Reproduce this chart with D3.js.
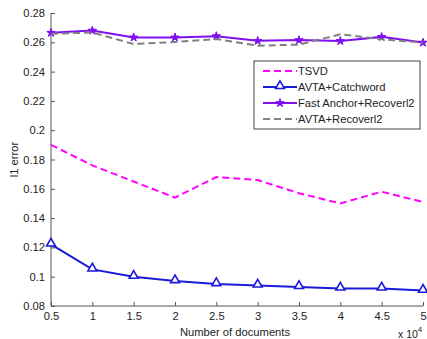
<!DOCTYPE html>
<html>
<head>
<meta charset="utf-8">
<script src="https://cdn.jsdelivr.net/npm/d3@7"></script>
<style>
  body { margin: 0; background: #fff; }
  svg text { font-family: "Liberation Sans", Arial, sans-serif; fill: #222; }
</style>
</head>
<body>
<div id="chart"></div>
<script>
const docs = [0.5, 1, 1.5, 2, 2.5, 3, 3.5, 4, 4.5, 5];
const tsvd = [0.190, 0.176, 0.165, 0.154, 0.168, 0.166, 0.157, 0.150, 0.158, 0.151];
const avtaCatchword = [0.122, 0.105, 0.100, 0.097, 0.095, 0.094, 0.093, 0.092, 0.092, 0.0905];
const fastAnchor = [0.2665, 0.268, 0.2633, 0.2633, 0.2642, 0.261, 0.2615, 0.2609, 0.2637, 0.2598];
const avtaRecover = [0.2658, 0.2667, 0.2588, 0.2602, 0.2622, 0.2577, 0.2584, 0.2655, 0.262, 0.2598];
const xTicks = [0.5, 1, 1.5, 2, 2.5, 3, 3.5, 4, 4.5, 5];
const yTicks = [0.08, 0.1, 0.12, 0.14, 0.16, 0.18, 0.2, 0.22, 0.24, 0.26, 0.28];

const series = [
  { name: "TSVD", values: tsvd, color: "#ff00ff", dash: "7,4", marker: null },
  { name: "AVTA+Catchword", values: avtaCatchword, color: "#1a1ad8", dash: null, marker: "triangle" },
  { name: "Fast Anchor+Recoverl2", values: fastAnchor, color: "#8010f0", dash: null, marker: "star" },
  { name: "AVTA+Recoverl2", values: avtaRecover, color: "#808080", dash: "7,4", marker: null }
];

const W = 427, H = 339;
const margin = { top: 13, right: 4, bottom: 33, left: 51 };
const fs = "11.2px";

const svg = d3.select("#chart").append("svg")
  .attr("width", W).attr("height", H);

const x = d3.scaleLinear().domain([0.5, 5]).range([margin.left, W - margin.right]);
const y = d3.scaleLinear().domain([0.08, 0.28]).range([H - margin.bottom, margin.top]);

// axes, ticks point inward like matlab
const xAxis = svg.append("g")
  .attr("transform", `translate(0,${H - margin.bottom})`)
  .call(d3.axisBottom(x).tickValues(xTicks).tickSize(-4).tickPadding(6)
    .tickFormat(d => d3.format("")(d)));
const yAxis = svg.append("g")
  .attr("transform", `translate(${margin.left},0)`)
  .call(d3.axisLeft(y).tickValues(yTicks).tickSize(-4).tickPadding(6)
    .tickFormat(d => String(+d.toFixed(2))));

[xAxis, yAxis].forEach(a => {
  a.selectAll("path, line").attr("stroke", "#555");
  a.selectAll("text").style("font-size", fs).attr("fill", "#222");
});
xAxis.select(".domain").attr("d", `M${margin.left},0H${W - margin.right}`);
yAxis.select(".domain").attr("d", `M0,${margin.top}V${H - margin.bottom}`);

// labels
svg.append("text")
  .attr("x", 235).attr("y", H - 3)
  .attr("text-anchor", "middle").style("font-size", fs)
  .text("Number of documents");
svg.append("text")
  .attr("transform", `translate(18,${y(0.18)}) rotate(-90)`)
  .attr("text-anchor", "middle").style("font-size", fs)
  .text("l1 error");
const exp = svg.append("text")
  .attr("x", 398).attr("y", H - 1).style("font-size", "10.5px");
exp.append("tspan").text("x 10");
exp.append("tspan").attr("dy", -6).style("font-size", "8px").text("4");

const line = d3.line().x((d, i) => x(docs[i])).y(d => y(d));

function drawMarker(g, type, cx, cy, color) {
  if (type === "triangle") {
    g.append("path")
      .attr("d", d3.symbol().type(d3.symbolTriangle).size(34)())
      .attr("transform", `translate(${cx},${cy - 1})`)
      .attr("fill", "#fff").attr("stroke", color).attr("stroke-width", 1.6);
  } else if (type === "star") {
    g.append("path")
      .attr("d", d3.symbol().type(d3.symbolStar).size(22)())
      .attr("transform", `translate(${cx},${cy})`)
      .attr("fill", color).attr("stroke", color).attr("stroke-width", 1);
  }
}

series.forEach(s => {
  const g = svg.append("g");
  g.append("path")
    .datum(s.values)
    .attr("d", line)
    .attr("fill", "none")
    .attr("stroke", s.color)
    .attr("stroke-width", 2)
    .attr("stroke-dasharray", s.dash);
  if (s.marker) {
    s.values.forEach((v, i) => drawMarker(g, s.marker, x(docs[i]), y(v), s.color));
  }
});

// legend
const lg = svg.append("g").attr("transform", "translate(254,61)");
lg.append("rect").attr("width", 166).attr("height", 68)
  .attr("fill", "#fff").attr("stroke", "#444").attr("stroke-width", 1);
series.forEach((s, i) => {
  const ly = 10 + i * 16;
  lg.append("line")
    .attr("x1", 9).attr("x2", 43).attr("y1", ly).attr("y2", ly)
    .attr("stroke", s.color).attr("stroke-width", 2)
    .attr("stroke-dasharray", s.dash);
  if (s.marker) drawMarker(lg, s.marker, 26, ly, s.color);
  lg.append("text").attr("x", 44).attr("y", ly + 4)
    .style("font-size", fs).text(s.name);
});
</script>
</body>
</html>
